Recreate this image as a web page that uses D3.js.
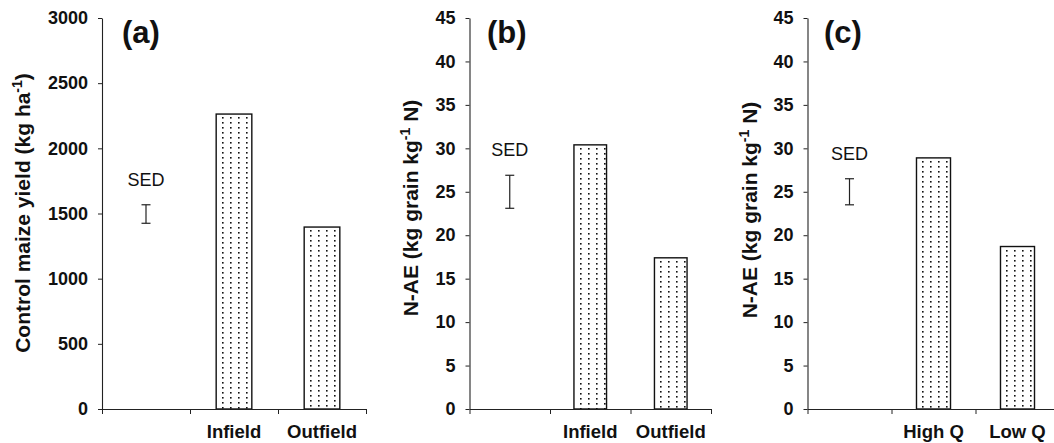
<!DOCTYPE html>
<html>
<head>
<meta charset="utf-8">
<script src="https://cdn.jsdelivr.net/npm/d3@7"></script>
<style>
  html, body { margin: 0; padding: 0; background: #fff; }
  svg { display: block; font-family: "Liberation Sans", Arial, sans-serif; }
</style>
</head>
<body>
<svg id="chart" width="1054" height="443"></svg>
<script>
// ---------- data ----------
const panelLabels = ["(a)", "(b)", "(c)"];

const categoriesA = ["", "Infield", "Outfield"];
const valuesA = [null, 2263, 1396];
const sedA = [1425, 1567];
const ticksA = [0, 500, 1000, 1500, 2000, 2500, 3000];

const categoriesB = ["", "Infield", "Outfield"];
const valuesB = [null, 30.4, 17.4];
const sedB = [23.1, 26.9];
const ticksB = [0, 5, 10, 15, 20, 25, 30, 35, 40, 45];

const categoriesC = ["", "High Q", "Low Q"];
const valuesC = [null, 28.9, 18.7];
const sedC = [23.5, 26.5];
const ticksC = [0, 5, 10, 15, 20, 25, 30, 35, 40, 45];

const titleA = ["Control maize yield (kg ha", "-1", ")"];
const titleB = ["N-AE (kg grain kg", "-1", " N)"];
const titleC = ["N-AE (kg grain kg", "-1", " N)"];

// ---------- layout ----------
const svg = d3.select("#chart");
const plotTop = 18, plotBottom = 409;
const defs = svg.append("defs");

function dotPattern(id, ox, oy) {
  const pat = defs.append("pattern")
    .attr("id", id).attr("patternUnits", "userSpaceOnUse")
    .attr("x", ox).attr("y", oy)
    .attr("width", 8).attr("height", 5);
  pat.append("rect").attr("width", 8).attr("height", 5).attr("fill", "#fff");
  pat.append("rect").attr("x", 0).attr("y", 0).attr("width", 1.6).attr("height", 1.6).attr("fill", "#111");
}

const panels = [
  { label: panelLabels[0], cats: categoriesA, vals: valuesA, sed: sedA, ticks: ticksA, max: 3000,
    x0: 102, x1: 366, title: titleA, titleX: 30, titleY: 213, labelX: 122 },
  { label: panelLabels[1], cats: categoriesB, vals: valuesB, sed: sedB, ticks: ticksB, max: 45,
    x0: 469.5, x1: 711, title: titleB, titleX: 418, titleY: 208, labelX: 487 },
  { label: panelLabels[2], cats: categoriesC, vals: valuesC, sed: sedC, ticks: ticksC, max: 45,
    x0: 807.5, x1: 1059.5, title: titleC, titleX: 757, titleY: 210, labelX: 824 }
];

panels.forEach((p, pi) => {
  const g = svg.append("g");
  const y = d3.scaleLinear().domain([0, p.max]).range([plotBottom, plotTop]);
  const x = d3.scaleBand().domain(p.cats.map((c, i) => i)).range([p.x0, p.x1]).padding(0);
  const bw = x.bandwidth() * 0.405;
  const barX = i => x(i) + (x.bandwidth() - bw) / 2;

  // bars
  const barData = p.vals.map((v, i) => ({ v, i })).filter(d => d.v != null);
  barData.forEach(d => dotPattern(`dots-${pi}-${d.i}`, Math.round(barX(d.i)) + 6, Math.round(y(d.v)) + 3));
  g.selectAll("rect.bar").data(barData).enter().append("rect")
    .attr("class", "bar")
    .attr("x", d => barX(d.i))
    .attr("y", d => y(d.v))
    .attr("width", bw)
    .attr("height", d => y(0) - y(d.v))
    .attr("fill", d => `url(#dots-${pi}-${d.i})`)
    .attr("stroke", "#111")
    .attr("stroke-width", 1.4);

  // y axis
  const yAxis = d3.axisLeft(y).tickValues(p.ticks).tickFormat(d3.format("d"))
    .tickSize(4).tickSizeOuter(0).tickPadding(10);
  const ya = g.append("g").attr("transform", `translate(${p.x0},0)`).call(yAxis);
  ya.select(".domain").attr("stroke", "#222").attr("stroke-width", 1.1);
  ya.selectAll(".tick line").attr("stroke", "#222");
  ya.selectAll(".tick text")
    .attr("font-family", "Liberation Sans, Arial, sans-serif")
    .attr("font-size", 18).attr("font-weight", "bold").attr("fill", "#111");

  // x axis (category boundary ticks)
  const xb = d3.scaleLinear().domain([0, p.cats.length]).range([p.x0, p.x1]);
  const xAxis = d3.axisBottom(xb).tickValues(d3.range(p.cats.length + 1)).tickSize(5).tickSizeOuter(0).tickFormat("");
  const xa = g.append("g").attr("transform", `translate(0,${plotBottom})`).call(xAxis);
  xa.select(".domain").attr("stroke", "#222").attr("stroke-width", 1.1);
  xa.selectAll(".tick line").attr("stroke", "#222");

  // category labels
  g.selectAll("text.cat").data(p.cats.map((c, i) => ({ c, i })).filter(d => d.c)).enter().append("text")
    .attr("class", "cat")
    .attr("x", d => x(d.i) + x.bandwidth() / 2)
    .attr("y", 437.5)
    .attr("text-anchor", "middle")
    .attr("font-size", 18.5).attr("font-weight", "bold").attr("fill", "#111")
    .text(d => d.c);

  // SED error bar
  const cx = x(0) + x.bandwidth() / 2;
  const capW = 4.5;
  const eb = g.append("g").attr("stroke", "#222").attr("stroke-width", 1.2);
  eb.append("line").attr("x1", cx).attr("x2", cx).attr("y1", y(p.sed[0])).attr("y2", y(p.sed[1]));
  eb.append("line").attr("x1", cx - capW).attr("x2", cx + capW).attr("y1", y(p.sed[0])).attr("y2", y(p.sed[0]));
  eb.append("line").attr("x1", cx - capW).attr("x2", cx + capW).attr("y1", y(p.sed[1])).attr("y2", y(p.sed[1]));
  g.append("text").attr("x", cx).attr("y", y(p.sed[1]) - 19)
    .attr("text-anchor", "middle").attr("font-size", 18).attr("fill", "#111").text("SED");

  // panel label
  g.append("text").attr("x", p.labelX).attr("y", 43)
    .attr("font-size", 31).attr("font-weight", "bold").attr("fill", "#111").text(p.label);

  // y title
  const t = g.append("text")
    .attr("transform", `translate(${p.titleX},${p.titleY}) rotate(-90)`)
    .attr("text-anchor", "middle")
    .attr("font-size", 21).attr("font-weight", "bold").attr("fill", "#111");
  t.append("tspan").text(p.title[0]);
  t.append("tspan").attr("font-size", 14).attr("dy", -8).text(p.title[1]);
  t.append("tspan").attr("dy", 8).text(p.title[2]);
});
</script>
</body>
</html>
